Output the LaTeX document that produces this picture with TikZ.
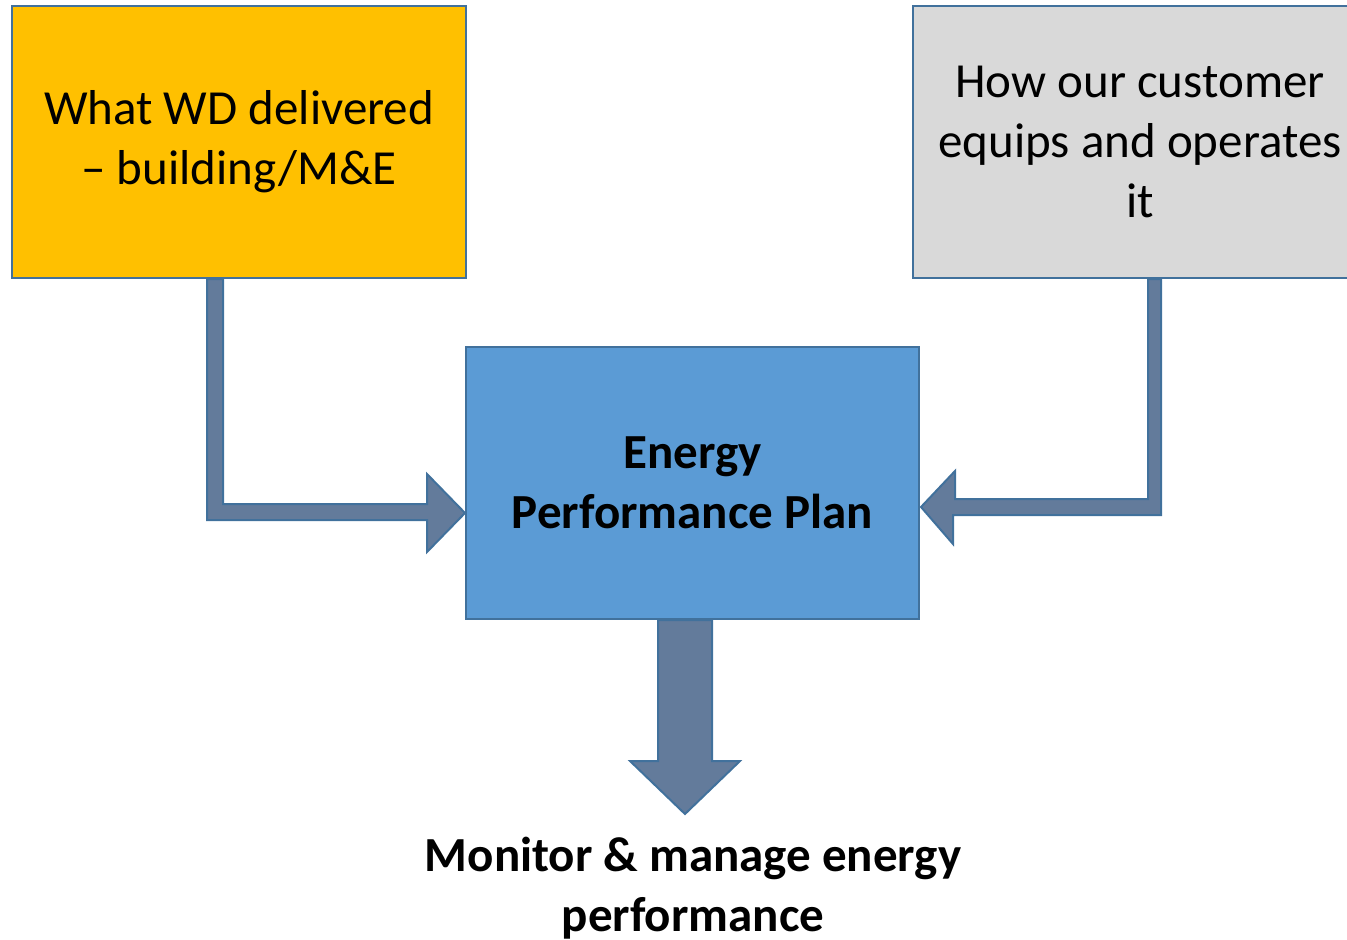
\documentclass[tikz,border=0pt]{standalone}
\usepackage{xcolor}
\usepackage{fontspec}
\setmainfont{Carlito}
\usetikzlibrary{calc}
\definecolor{edgeblue}{HTML}{41719C}
\definecolor{boxyellow}{HTML}{FFC000}
\definecolor{boxgrey}{HTML}{D9D9D9}
\definecolor{boxblue}{HTML}{5B9BD5}
\definecolor{arrowslate}{HTML}{637B9B}
\begin{document}
\begin{tikzpicture}[x=0.5pt,y=0.5pt,every node/.style={align=center,font=\fontsize{24.5}{30}\selectfont},
    box/.style={draw=edgeblue,line width=1pt,minimum width=227pt,minimum height=136pt,inner sep=0pt},
    fatarrow/.style={draw=edgeblue,fill=arrowslate,line width=1pt,line join=miter}]
        \useasboundingbox (0,0) rectangle (1347,939);
        \node[box,fill=boxyellow] (what) at (239,797) {What WD delivered\\– building/M\&E};
        \node[box,fill=boxgrey] (how) at (1140,797) {How our customer\\equips and operates\\it};
        \node[box,fill=boxblue,minimum width=226.5pt] (plan) at (692.5,456) {\bfseries Energy\\\bfseries Performance Plan};
        \node (monitor) at (693,51) {\bfseries Monitor \& manage energy\\\bfseries performance};
        \coordinate (ltip) at ($(plan.south west)+(0,107)$);
        \coordinate (rtip) at ($(plan.south east)+(1,113)$);
        \coordinate (dtip) at ($(plan.south)+(-7.5,-194)$);
        \draw[fatarrow] ($(what.south west)+(196,0)$) -- ++(0,-241) -- ++(220,0) -- ++(0,-32) -- (ltip)
            -- ++(-38,39) -- ++(0,-30) -- ++(-204,0) -- ++(0,225) -- cycle;
        \draw[fatarrow] ($(how.south west)+(249,0)$) -- ++(0,-236) -- ++(-208,0) -- ++(0,-29) -- (rtip)
            -- ++(34,36) -- ++(0,-28) -- ++(193,0) -- ++(0,220) -- cycle;
        \draw[fatarrow] ($(plan.south)+(-34.5,0)$) -- ++(0,-141) -- ++(-28,0) -- (dtip)
            -- ++(55,53) -- ++(-28,0) -- ++(0,141) -- cycle;
    \end{tikzpicture}
\end{document}
